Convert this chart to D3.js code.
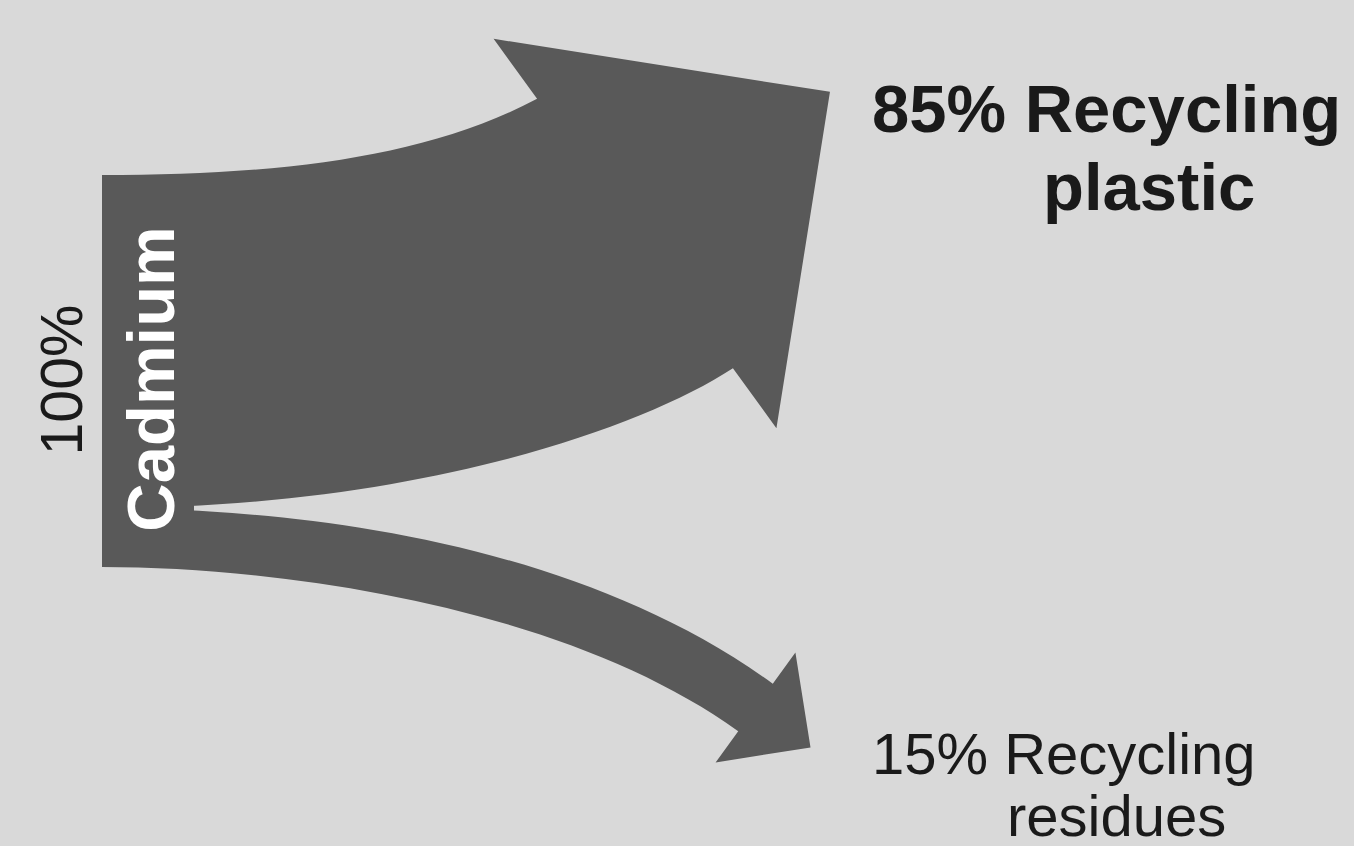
<!DOCTYPE html>
<html>
<head>
<meta charset="utf-8">
<script src="https://cdn.jsdelivr.net/npm/d3@7"></script>
<style>
  html, body { margin: 0; padding: 0; background: #d9d9d9; }
  svg { display: block; }
</style>
</head>
<body>
<svg id="chart" width="1354" height="846"></svg>
<script>
// ---- data ----
const sourceName = "Cadmium";
const sourceValue = 100;
const targetNames = ["Recycling plastic", "Recycling residues"];
const targetValues = [85, 15];
const targetLabelLines = [["Recycling", "plastic"], ["Recycling", "residues"]];

// ---- layout ----
const W = 1354, H = 846;
const nodeX = 102;
const nodeW = 92;
const yScale = d3.scaleLinear().domain([0, sourceValue]).range([175, 567]);
const flowLayout = [
  { end: [635, 233.5], angle: -36, headExt: 74, headLen: 241,
    topCtrl: [170, 130], topAngle: -28, botCtrl: [300, 120], botAngle: -33 },
  { end: [755.5, 707.5], angle: 36, headExt: 38.5, headLen: 68,
    topCtrl: [120, 280], topAngle: 36, botCtrl: [200, 200], botAngle: 36 }
];
const labelLayout = [
  { x: [872, 1043], y: [132, 210], size: 67, weight: "bold" },
  { x: [872, 1007], y: [774, 836], size: 58, weight: "normal" }
];
const fillColor = "#595959";
const textColor = "#1a1a1a";
const fontFamily = "'Liberation Sans', Arial, Helvetica, sans-serif";

const svg = d3.select("#chart");
svg.append("rect").attr("width", W).attr("height", H).attr("fill", "#d9d9d9");

const dir = a => [Math.cos(a * Math.PI / 180), Math.sin(a * Math.PI / 180)];

let cum = 0;
const flows = targetValues.map((v, i) => {
  const y0 = yScale(cum), y1 = yScale(cum + v);
  cum += v;
  return { i, v, y0, y1 };
});

flows.forEach(({ i, v, y0, y1 }) => {
  const L = flowLayout[i];
  const w = y1 - y0;
  const d = dir(L.angle);
  const n = [d[1], -d[0]]; // left normal (upper side)
  const dT = dir(L.topAngle), dB = dir(L.botAngle);
  const C = L.end;
  const eTop = [C[0] + n[0] * w / 2, C[1] + n[1] * w / 2];
  const eBot = [C[0] - n[0] * w / 2, C[1] - n[1] * w / 2];
  const bTop = [eTop[0] + n[0] * L.headExt, eTop[1] + n[1] * L.headExt];
  const bBot = [eBot[0] - n[0] * L.headExt, eBot[1] - n[1] * L.headExt];
  const tip = [C[0] + d[0] * L.headLen, C[1] + d[1] * L.headLen];

  const p = d3.path();
  p.moveTo(nodeX, y0);
  p.bezierCurveTo(nodeX + L.topCtrl[0], y0,
                  eTop[0] - dT[0] * L.topCtrl[1], eTop[1] - dT[1] * L.topCtrl[1],
                  eTop[0], eTop[1]);
  p.lineTo(bTop[0], bTop[1]);
  p.lineTo(tip[0], tip[1]);
  p.lineTo(bBot[0], bBot[1]);
  p.lineTo(eBot[0], eBot[1]);
  p.bezierCurveTo(eBot[0] - dB[0] * L.botCtrl[1], eBot[1] - dB[1] * L.botCtrl[1],
                  nodeX + L.botCtrl[0], y1,
                  nodeX, y1);
  p.closePath();

  svg.append("path").attr("d", p.toString()).attr("fill", fillColor)
    .attr("class", "flow").attr("data-target", targetNames[i]);

  // labels
  const LL = labelLayout[i];
  const lines = [targetValues[i] + "% " + targetLabelLines[i][0], targetLabelLines[i][1]];
  lines.forEach((t, j) => {
    svg.append("text")
      .attr("x", LL.x[j]).attr("y", LL.y[j])
      .attr("font-family", fontFamily)
      .attr("font-size", LL.size)
      .attr("font-weight", LL.weight)
      .attr("fill", textColor)
      .text(t);
  });
});

// node block (covers the seam where flows leave the source)
svg.append("rect")
  .attr("x", nodeX).attr("y", yScale(0) + 20)
  .attr("width", nodeW).attr("height", yScale(sourceValue) - yScale(0) - 40)
  .attr("fill", fillColor);

// source labels (rotated)
const midY = (yScale(0) + yScale(sourceValue)) / 2;
svg.append("text")
  .attr("transform", `translate(82, ${midY + 9}) rotate(-90)`)
  .attr("text-anchor", "middle")
  .attr("font-family", fontFamily)
  .attr("font-size", 59)
  .attr("fill", textColor)
  .text(sourceValue + "%");

svg.append("text")
  .attr("transform", `translate(174, ${midY + 8}) rotate(-90)`)
  .attr("text-anchor", "middle")
  .attr("font-family", fontFamily)
  .attr("font-size", 67)
  .attr("font-weight", "bold")
  .attr("fill", "#ffffff")
  .text(sourceName);
</script>
</body>
</html>
